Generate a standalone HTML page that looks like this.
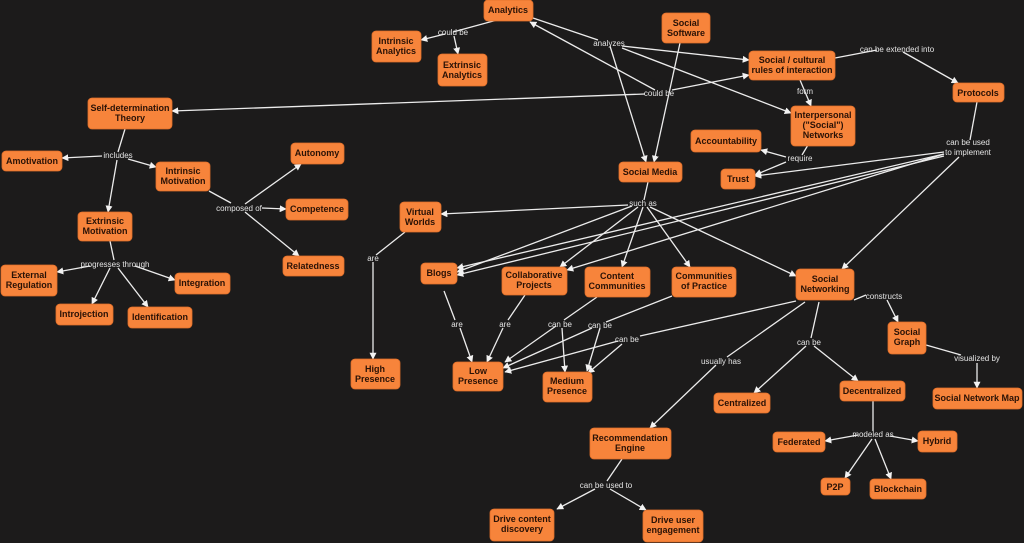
<!DOCTYPE html>
<html><head><meta charset="utf-8"><style>
html,body{margin:0;padding:0;background:#1c1b1b;}
svg{display:block}
.n rect{fill:#f7843b;stroke:#e06f2a;stroke-width:0.8}
.n text{font:bold 9px "Liberation Sans",sans-serif;fill:#2a1206;text-anchor:middle}
.e{stroke:#ececec;stroke-width:1.3;fill:none}
.a{stroke:#ececec;stroke-width:1.3;fill:none;marker-end:url(#ar)}
.l text{font:8px "Liberation Sans",sans-serif;fill:#e4e4e4;text-anchor:middle}
</style></head><body>
<svg width="1024" height="543" viewBox="0 0 1024 543" xmlns="http://www.w3.org/2000/svg">
<defs><marker id="ar" viewBox="0 0 10 10" refX="9" refY="5" markerWidth="7" markerHeight="7" orient="auto" markerUnits="userSpaceOnUse"><path d="M0,0L10,5L0,10z" fill="#f2f2f2"/></marker></defs>
<rect width="1024" height="543" fill="#1c1b1b"/>

<!-- edges -->
<g>
<path class="e" d="M497,20 L453,32"/><path class="a" d="M445,34 L421,40"/><path class="a" d="M454,36 L458,54"/>
<path class="e" d="M533,18 L598,40"/>
<path class="a" d="M610,46 L646,162"/><path class="a" d="M622,46 L749,60"/><path class="a" d="M622,48 L791,113"/>
<path class="a" d="M680,43 L654,162"/>
<path class="a" d="M655,90 L530,22"/><path class="a" d="M672,90 L749,75"/><path class="a" d="M645,94 L172,111"/>
<path class="e" d="M835,58 L877,50"/><path class="a" d="M903,52 L958,83"/>
<path class="a" d="M800,80 L811,106"/>
<path class="e" d="M808,145 L802,155"/><path class="a" d="M786,157 L761,150"/><path class="a" d="M786,162 L755,175"/>
<path class="e" d="M977,102 L970,140"/>
<path class="a" d="M944,152 L755,176"/><path class="a" d="M944,154 L567,270"/><path class="a" d="M944,156 L457,275"/><path class="a" d="M944,154 L457,268"/><path class="a" d="M959,157 L842,269"/>
<path class="e" d="M648,182 L644,200"/>
<path class="a" d="M628,205 L441,214"/><path class="a" d="M632,206 L457,272"/><path class="a" d="M638,207 L560,267"/><path class="a" d="M643,207 L622,267"/><path class="a" d="M647,207 L690,267"/><path class="a" d="M650,207 L796,276"/>
<path class="e" d="M125,129 L118,152"/><path class="a" d="M102,156 L62,158"/><path class="a" d="M128,159 L156,167"/><path class="a" d="M117,160 L108,212"/>
<path class="e" d="M209,191 L231,203"/><path class="a" d="M245,204 L301,164"/><path class="a" d="M262,208 L286,209"/><path class="a" d="M245,212 L299,256"/>
<path class="e" d="M110,241 L114,260"/><path class="a" d="M90,266 L57,272"/><path class="a" d="M135,266 L175,280"/><path class="a" d="M110,268 L92,304"/><path class="a" d="M118,268 L148,307"/>
<path class="e" d="M405,232 L376,255"/><path class="a" d="M373,262 L373,359"/>
<path class="e" d="M444,291 L455,320"/><path class="a" d="M460,328 L472,362"/>
<path class="e" d="M525,295 L508,320"/><path class="a" d="M503,328 L487,362"/>
<path class="e" d="M597,297 L564,320"/><path class="a" d="M556,326 L505,362"/><path class="a" d="M562,328 L565,372"/>
<path class="e" d="M672,296 L606,322"/><path class="a" d="M592,328 L503,368"/><path class="a" d="M600,328 L587,371"/>
<path class="e" d="M796,301 L640,336"/><path class="a" d="M618,341 L505,372"/><path class="a" d="M622,344 L588,373"/>
<path class="e" d="M805,302 L727,357"/><path class="a" d="M716,365 L650,428"/>
<path class="e" d="M819,302 L811,338"/><path class="a" d="M806,346 L754,393"/><path class="a" d="M814,346 L858,381"/>
<path class="e" d="M854,300 L866,295"/><path class="a" d="M887,300 L898,322"/>
<path class="e" d="M926,345 L961,355"/><path class="a" d="M977,363 L977,388"/>
<path class="e" d="M873,401 L873,431"/><path class="a" d="M858,435 L825,441"/><path class="a" d="M890,436 L918,441"/><path class="a" d="M872,439 L845,478"/><path class="a" d="M875,439 L891,479"/>
<path class="e" d="M622,459 L607,481"/><path class="a" d="M595,489 L557,509"/><path class="a" d="M610,489 L646,510"/>
</g>

<!-- labels -->
<g class="l">
<text x="453" y="35">could be</text>
<text x="609" y="46">analyzes</text>
<text x="659" y="96">could be</text>
<text x="897" y="52">can be extended into</text>
<text x="805" y="94">form</text>
<text x="800" y="161">require</text>
<text x="968" y="145">can be used</text><text x="968" y="155">to implement</text>
<text x="643" y="206">such as</text>
<text x="118" y="158">includes</text>
<text x="239" y="211">composed of</text>
<text x="115" y="267">progresses through</text>
<text x="373" y="261">are</text>
<text x="457" y="327">are</text>
<text x="505" y="327">are</text>
<text x="560" y="327">can be</text>
<text x="600" y="328">can be</text>
<text x="627" y="342">can be</text>
<text x="721" y="364">usually has</text>
<text x="809" y="345">can be</text>
<text x="884" y="299">constructs</text>
<text x="977" y="361">visualized by</text>
<text x="873" y="437">modeled as</text>
<text x="606" y="488">can be used to</text>
</g>

<!-- nodes -->
<g class="n">
<rect x="484" y="0" width="49" height="21" rx="4"/><text x="508" y="13">Analytics</text>
<rect x="372" y="31" width="49" height="31" rx="4"/><text x="396" y="44">Intrinsic</text><text x="396" y="54">Analytics</text>
<rect x="438" y="54" width="49" height="32" rx="4"/><text x="462" y="68">Extrinsic</text><text x="462" y="78">Analytics</text>
<rect x="662" y="13" width="48" height="30" rx="4"/><text x="686" y="26">Social</text><text x="686" y="36">Software</text>
<rect x="749" y="51" width="86" height="29" rx="4"/><text x="792" y="63">Social / cultural</text><text x="792" y="73">rules of interaction</text>
<rect x="953" y="83" width="51" height="19" rx="4"/><text x="978" y="96">Protocols</text>
<rect x="791" y="106" width="64" height="40" rx="4"/><text x="823" y="118">Interpersonal</text><text x="823" y="128">("Social")</text><text x="823" y="138">Networks</text>
<rect x="691" y="130" width="70" height="22" rx="4"/><text x="726" y="144">Accountability</text>
<rect x="721" y="169" width="34" height="20" rx="4"/><text x="738" y="182">Trust</text>
<rect x="619" y="162" width="63" height="20" rx="4"/><text x="650" y="175">Social Media</text>
<rect x="88" y="98" width="84" height="31" rx="4"/><text x="130" y="111">Self-determination</text><text x="130" y="121">Theory</text>
<rect x="2" y="151" width="60" height="20" rx="4"/><text x="32" y="164">Amotivation</text>
<rect x="156" y="162" width="54" height="29" rx="4"/><text x="183" y="174">Intrinsic</text><text x="183" y="184">Motivation</text>
<rect x="291" y="143" width="53" height="21" rx="4"/><text x="317" y="156">Autonomy</text>
<rect x="286" y="199" width="62" height="21" rx="4"/><text x="317" y="212">Competence</text>
<rect x="283" y="256" width="61" height="20" rx="4"/><text x="313" y="269">Relatedness</text>
<rect x="78" y="212" width="54" height="29" rx="4"/><text x="105" y="224">Extrinsic</text><text x="105" y="234">Motivation</text>
<rect x="1" y="265" width="56" height="31" rx="4"/><text x="29" y="278">External</text><text x="29" y="288">Regulation</text>
<rect x="175" y="273" width="55" height="21" rx="4"/><text x="202" y="286">Integration</text>
<rect x="56" y="304" width="57" height="21" rx="4"/><text x="84" y="317">Introjection</text>
<rect x="128" y="307" width="64" height="21" rx="4"/><text x="160" y="320">Identification</text>
<rect x="400" y="202" width="41" height="30" rx="4"/><text x="420" y="215">Virtual</text><text x="420" y="225">Worlds</text>
<rect x="421" y="263" width="36" height="21" rx="4"/><text x="439" y="276">Blogs</text>
<rect x="502" y="267" width="65" height="28" rx="4"/><text x="534" y="278">Collaborative</text><text x="534" y="288">Projects</text>
<rect x="585" y="267" width="65" height="30" rx="4"/><text x="617" y="279">Content</text><text x="617" y="289">Communities</text>
<rect x="672" y="267" width="64" height="30" rx="4"/><text x="704" y="279">Communities</text><text x="704" y="289">of Practice</text>
<rect x="796" y="269" width="58" height="31" rx="4"/><text x="825" y="282">Social</text><text x="825" y="292">Networking</text>
<rect x="351" y="359" width="49" height="30" rx="4"/><text x="375" y="372">High</text><text x="375" y="382">Presence</text>
<rect x="453" y="362" width="50" height="29" rx="4"/><text x="478" y="374">Low</text><text x="478" y="384">Presence</text>
<rect x="543" y="372" width="49" height="30" rx="4"/><text x="567" y="384">Medium</text><text x="567" y="394">Presence</text>
<rect x="888" y="322" width="38" height="32" rx="4"/><text x="907" y="335">Social</text><text x="907" y="345">Graph</text>
<rect x="933" y="388" width="89" height="21" rx="4"/><text x="977" y="401">Social Network Map</text>
<rect x="714" y="393" width="56" height="20" rx="4"/><text x="742" y="406">Centralized</text>
<rect x="840" y="381" width="65" height="20" rx="4"/><text x="872" y="394">Decentralized</text>
<rect x="590" y="428" width="81" height="31" rx="4"/><text x="630" y="441">Recommendation</text><text x="630" y="451">Engine</text>
<rect x="773" y="432" width="52" height="20" rx="4"/><text x="799" y="445">Federated</text>
<rect x="918" y="431" width="39" height="21" rx="4"/><text x="937" y="444">Hybrid</text>
<rect x="821" y="478" width="29" height="17" rx="4"/><text x="835" y="490">P2P</text>
<rect x="870" y="479" width="56" height="20" rx="4"/><text x="898" y="492">Blockchain</text>
<rect x="490" y="509" width="64" height="32" rx="4"/><text x="522" y="522">Drive content</text><text x="522" y="532">discovery</text>
<rect x="643" y="510" width="60" height="32" rx="4"/><text x="673" y="523">Drive user</text><text x="673" y="533">engagement</text>
</g>
</svg>
</body></html>
